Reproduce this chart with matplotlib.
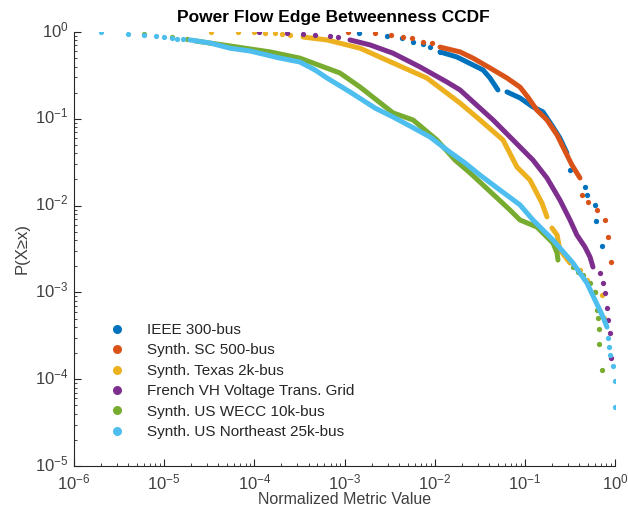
import numpy as np
import matplotlib
matplotlib.use('Agg')
import matplotlib.pyplot as plt
from matplotlib.lines import Line2D
from matplotlib.transforms import ScaledTranslation
from matplotlib.ticker import FixedLocator, LogFormatterMathtext, NullFormatter

plt.rcParams['font.family'] = ['Liberation Sans', 'DejaVu Sans']
plt.rcParams['mathtext.fontset'] = 'custom'
plt.rcParams['mathtext.rm'] = 'Liberation Sans'

labels = ['IEEE 300-bus', 'Synth. SC 500-bus', 'Synth. Texas 2k-bus',
          'French VH Voltage Trans. Grid', 'Synth. US WECC 10k-bus',
          'Synth. US Northeast 25k-bus']
colors = ['#0072BD', '#D95319', '#EDB120', '#7E2F8E', '#77AC30', '#4DBEEE']
x_decades = [1e-6, 1e-5, 1e-4, 1e-3, 1e-2, 1e-1, 1e0]
y_decades = [1e-5, 1e-4, 1e-3, 1e-2, 1e-1, 1e0]

# each series: sparse head dots, dense middle part, sparse tail dots
ieee_head_x = [1.45e-3, 2.96e-3, 4.35e-3, 5.75e-3, 7.4e-3, 8.9e-3, 0.01146]
ieee_head_y = [0.975, 0.90, 0.85, 0.77, 0.73, 0.67, 0.59]
ieee_mid_x = [0.01146, 0.0177, 0.0266, 0.0344, 0.0411, 0.0503]
ieee_mid_y = [0.59, 0.515, 0.417, 0.365, 0.295, 0.215]
ieee_mid2_x = [0.0634, 0.0883, 0.123, 0.159, 0.205, 0.245, 0.293]
ieee_mid2_y = [0.204, 0.174, 0.137, 0.120, 0.0805, 0.060, 0.0404]
ieee_tail_x = [0.317, 0.464, 0.489, 0.600, 0.615, 0.718]
ieee_tail_y = [0.0257, 0.0164, 0.0132, 0.0102, 0.00665, 0.00343]

sc_head_x = [1.09e-3, 2.18e-3, 3.28e-3, 4.46e-3, 5.6e-3, 7.4e-3, 9.3e-3]
sc_head_y = [1.0, 0.975, 0.92, 0.875, 0.85, 0.77, 0.75]
sc_mid_x = [0.01146, 0.0191, 0.0266, 0.0411, 0.0634, 0.0883, 0.108, 0.136,
            0.176, 0.228, 0.265, 0.333, 0.409]
sc_mid_y = [0.67, 0.59, 0.50, 0.385, 0.295, 0.232, 0.178, 0.126,
            0.097, 0.065, 0.0473, 0.0294, 0.0208]
sc_tail_x = [0.431, 0.501, 0.631, 0.775, 0.835, 0.90]
sc_tail_y = [0.0132, 0.0110, 0.0089, 0.00683, 0.00435, 0.00224]

tx_head_x = [3.3e-5, 6.6e-5, 9.9e-5, 1.31e-4, 1.69e-4, 2.03e-4, 2.48e-4]
tx_head_y = [1.0, 1.0, 0.99, 0.975, 0.97, 0.95, 0.92]
tx_mid_x = [3.47e-4, 6.4e-4, 1.49e-3, 3.45e-3, 8.2e-3, 0.0191, 0.0318,
            0.0573, 0.0818, 0.114, 0.155, 0.176]
tx_mid_y = [0.875, 0.81, 0.65, 0.44, 0.295, 0.152, 0.097,
            0.057, 0.0278, 0.0197, 0.0107, 0.0074]
tx_mid2_x = [0.200, 0.228, 0.245, 0.317]
tx_mid2_y = [0.00552, 0.00458, 0.00308, 0.00218]
tx_tail_x = [0.409, 0.489, 0.600, 0.718, 0.755]
tx_tail_y = [0.00181, 0.00139, 0.00101, 9.3e-4, 5.07e-4]

fr_head_x = [1.13e-4, 2.30e-4, 3.47e-4, 4.71e-4, 6.9e-4, 8.5e-4]
fr_head_y = [1.0, 0.975, 0.95, 0.92, 0.90, 0.875]
fr_mid_x = [1.15e-3, 1.92e-3, 3.45e-3, 6.9e-3, 0.0137, 0.0191, 0.0444,
            0.074, 0.123, 0.176, 0.245, 0.317, 0.378, 0.464, 0.528, 0.570]
fr_mid_y = [0.81, 0.71, 0.57, 0.395, 0.265, 0.215, 0.097,
            0.057, 0.0335, 0.0208, 0.0116, 0.00683, 0.00458, 0.00334, 0.00256, 0.00196]
fr_tail_x = [0.681, 0.736, 0.775, 0.815, 0.835, 0.879, 0.90]
fr_tail_y = [0.00167, 0.00128, 9.8e-4, 6.6e-4, 4.8e-4, 3.4e-4, 1.75e-4]

we_head_x = [6.0e-6, 1.22e-5, 1.79e-5]
we_head_y = [0.95, 0.875, 0.83]
we_mid_x = [2.2e-5, 5.4e-5, 1.49e-4, 3.2e-4, 8.9e-4, 1.49e-3, 3.45e-3, 5.75e-3,
            0.0106, 0.0168, 0.0247, 0.0684, 0.0883, 0.136, 0.205, 0.228, 0.233]
we_mid_y = [0.79, 0.69, 0.59, 0.50, 0.337, 0.232, 0.117, 0.097,
            0.057, 0.0335, 0.0238, 0.0089, 0.00683, 0.00567, 0.00371, 0.00284, 0.00236]
we_tail_x = [0.342, 0.388, 0.441, 0.528, 0.600, 0.631, 0.647, 0.664, 0.664, 0.718]
we_tail_y = [0.00196, 0.00172, 0.00159, 0.00128, 0.00101, 6.27e-4, 5.07e-4,
             3.79e-4, 2.54e-4, 1.28e-4]

ne_head_x = [2.0e-6, 4.0e-6, 6.0e-6, 8.1e-6, 1.0e-5, 1.22e-5, 1.39e-5, 1.62e-5]
ne_head_y = [1.0, 0.95, 0.92, 0.90, 0.875, 0.85, 0.83, 0.83]
ne_mid_x = [1.93e-5, 3.22e-5, 5.4e-5, 8.95e-5, 1.93e-4, 3.2e-4, 4.71e-4, 6.4e-4,
            1.15e-3, 2.18e-3, 3.45e-3, 5.32e-3, 8.9e-3, 0.0137, 0.0217, 0.0318,
            0.053, 0.0883, 0.123, 0.205, 0.342, 0.489, 0.600, 0.736, 0.815]
ne_mid_y = [0.81, 0.747, 0.65, 0.604, 0.50, 0.451, 0.365, 0.295,
            0.204, 0.133, 0.105, 0.0826, 0.0617, 0.0437, 0.031, 0.0225,
            0.0151, 0.0102, 0.00683, 0.00402, 0.00218, 0.00128, 8.17e-4, 5.21e-4, 3.99e-4]
ne_tail_x = [0.835, 0.857, 0.879, 0.951, 1.0, 1.0]
ne_tail_y = [2.98e-4, 2.35e-4, 1.90e-4, 1.42e-4, 9.5e-5, 4.8e-5]

series = [
    ([ieee_head_x, ieee_tail_x], [ieee_head_y, ieee_tail_y], [ieee_mid_x, ieee_mid2_x], [ieee_mid_y, ieee_mid2_y]),
    ([sc_head_x, sc_tail_x], [sc_head_y, sc_tail_y], [sc_mid_x], [sc_mid_y]),
    ([tx_head_x, tx_tail_x], [tx_head_y, tx_tail_y], [tx_mid_x, tx_mid2_x], [tx_mid_y, tx_mid2_y]),
    ([fr_head_x, fr_tail_x], [fr_head_y, fr_tail_y], [fr_mid_x], [fr_mid_y]),
    ([we_head_x, we_tail_x], [we_head_y, we_tail_y], [we_mid_x], [we_mid_y]),
    ([ne_head_x, ne_tail_x], [ne_head_y, ne_tail_y], [ne_mid_x], [ne_mid_y]),
]

fig = plt.figure(figsize=(6.28, 5.16), dpi=100)
ax = fig.add_axes([74 / 628, 1 - 466 / 516, 541 / 628, 434 / 516])

for (dx, dy, lx, ly), c in zip(series, colors):
    for xs, ys in zip(lx, ly):
        ax.plot(xs, ys, '-', color=c, lw=3.6, solid_capstyle='round',
                solid_joinstyle='round')
    for xs, ys in zip(dx, dy):
        ax.plot(xs, ys, 'o', color=c, ms=3.8, mec='none')

ax.set_xscale('log')
ax.set_yscale('log')
ax.set_xlim(1e-6, 1)
ax.set_ylim(1e-5, 1)

gray = '#404040'
for s in ['top', 'right']:
    ax.spines[s].set_visible(False)
for s in ['left', 'bottom']:
    ax.spines[s].set_color('#262626')
    ax.spines[s].set_linewidth(0.8)

x_minor = [m * d for d in x_decades[:-1] for m in range(2, 10)]
y_minor = [m * d for d in y_decades[:-1] for m in range(2, 10)]
ax.xaxis.set_major_locator(FixedLocator(x_decades))
ax.yaxis.set_major_locator(FixedLocator(y_decades))
ax.xaxis.set_major_formatter(LogFormatterMathtext())
ax.yaxis.set_major_formatter(LogFormatterMathtext())
ax.xaxis.set_minor_locator(FixedLocator(x_minor))
ax.yaxis.set_minor_locator(FixedLocator(y_minor))
ax.xaxis.set_minor_formatter(NullFormatter())
ax.yaxis.set_minor_formatter(NullFormatter())
ax.tick_params(which='major', direction='in', length=5, width=0.8, color='#262626',
               labelsize=12, labelcolor=gray)
ax.tick_params(which='minor', direction='in', length=2.5, width=0.6, color='#262626')
ax.tick_params(axis='x', which='major', pad=4.5)
ax.tick_params(axis='y', which='major', pad=4)

# nudge y tick labels up a little, as in the reference
shift = ScaledTranslation(0, 2.5 / 72, fig.dpi_scale_trans)
for lab in ax.get_yticklabels():
    lab.set_transform(lab.get_transform() + shift)

ax.set_title('Power Flow Edge Betweenness CCDF', fontsize=12.5, fontweight='bold',
             pad=7, x=0.48)
ax.set_xlabel('Normalized Metric Value', fontsize=11.5, color=gray, labelpad=0)
ax.set_ylabel('P(X\u2265x)', fontsize=12, color=gray, labelpad=4)

handles = [Line2D([], [], ls='none', marker='o', ms=6.5, color=c, mec='none') for c in colors]
ax.legend(handles, labels, loc='upper left', bbox_to_anchor=(0.037, 0.361),
          frameon=False, fontsize=11, labelspacing=0.42, handlelength=1.2,
          handletextpad=1.35, labelcolor='#262626')

fig.savefig('out.png', dpi=100)
